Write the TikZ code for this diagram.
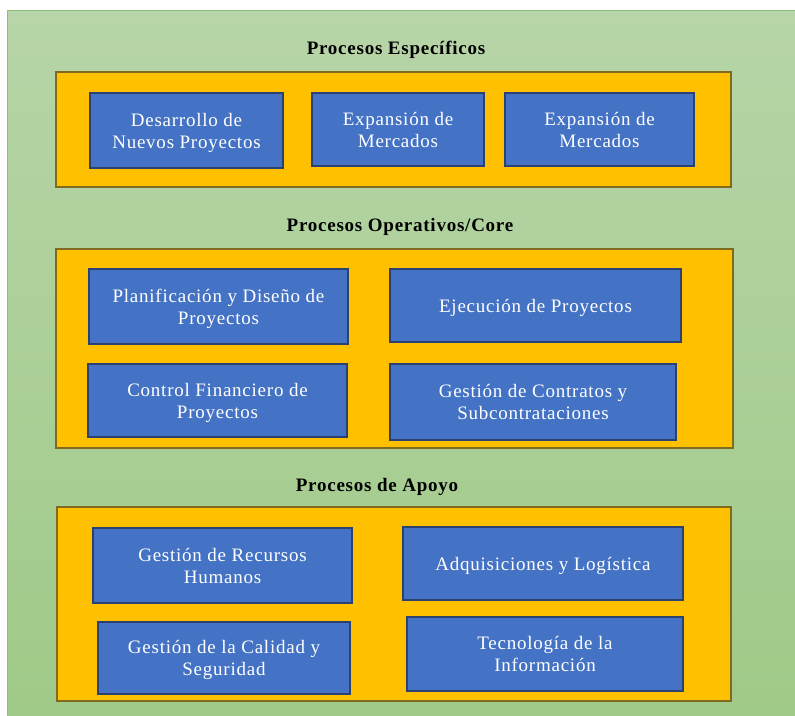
\documentclass[tikz,border=0pt]{standalone}
\usepackage{fontspec}
\setmainfont{Liberation Serif}
\definecolor{verdeArriba}{HTML}{B7D5A8}
\definecolor{verdeAbajo}{HTML}{A0CA88}
\definecolor{verdeBorde}{HTML}{8DBE72}
\definecolor{naranja}{HTML}{FFC000}
\definecolor{naranjaBorde}{HTML}{7F6A1E}
\definecolor{azul}{HTML}{4472C4}
\definecolor{azulBorde}{HTML}{2B4270}
\newcommand{\Txt}{\fontsize{19}{22}\selectfont\addfontfeature{LetterSpace=4}}

\begin{document}
\begin{tikzpicture}[x=1pt,y=-1pt,
  bloque/.style={draw=naranjaBorde, fill=naranja, line width=1.6pt, inner sep=0pt},
  caja/.style={draw=azulBorde, fill=azul, line width=1.6pt, inner sep=0pt,
    text=white, align=center, font=\Txt, text depth=0pt},
  titulo/.style={font=\Txt\bfseries, inner sep=0pt}]

  \useasboundingbox (0,0) rectangle (795,715);
  \shade[top color=verdeArriba, bottom color=verdeAbajo] (7,10) rectangle (795,715);
  \draw[verdeBorde, line width=0.8pt] (7.4,10.4) -- (794.6,10.4);
  \draw[verdeBorde, line width=0.8pt] (7.4,10.4) -- (7.4,715);

  % procesos especificos
  \node[titulo] (tEsp) at (396,50) {Procesos Específicos};
  \node[bloque, minimum width=675pt, minimum height=115pt] (bEsp) at (393.5,129.5) {};
  \node[caja, minimum width=193pt, minimum height=75pt] (desarrollo) at (186.5,130.5)
    {Desarrollo de\\Nuevos Proyectos};
  \node[caja, minimum width=172pt, minimum height=73pt] (expansionA) at (398,129.5)
    {Expansión de\\Mercados};
  \node[caja, minimum width=189pt, minimum height=73pt] (expansionB) at (599.5,129.5)
    {Expansión de\\Mercados};

  % procesos operativos / core
  \node[titulo] (tOpe) at (400,227) {Procesos Operativos/Core};
  \node[bloque, minimum width=677pt, minimum height=199pt] (bOpe) at (394.5,348.5) {};
  \node[caja, minimum width=259pt, minimum height=75pt] (planificacion) at (218.5,306.5)
    {Planificación y Diseño de\\Proyectos};
  \node[caja, minimum width=291pt, minimum height=73pt] (ejecucion) at (535.5,305.5)
    {Ejecución de Proyectos};
  \node[caja, minimum width=259pt, minimum height=73pt] (control) at (217.5,400.5)
    {Control Financiero de\\Proyectos};
  \node[caja, minimum width=286pt, minimum height=76pt] (contratos) at (533,402)
    {Gestión de Contratos y\\Subcontrataciones};

  % procesos de apoyo
  \node[titulo] (tApo) at (377,487) {Procesos de Apoyo};
  \node[bloque, minimum width=674pt, minimum height=194pt] (bApo) at (394,604) {};
  \node[caja, minimum width=259pt, minimum height=75pt] (recursos) at (222.5,565.5)
    {Gestión de Recursos\\Humanos};
  \node[caja, minimum width=280pt, minimum height=73pt] (adquisiciones) at (543,563.5)
    {Adquisiciones y Logística};
  \node[caja, minimum width=252pt, minimum height=72pt] (calidad) at (224,658)
    {Gestión de la Calidad y\\Seguridad};
  \node[caja, minimum width=276pt, minimum height=74pt] (tecnologia) at (545,654)
    {Tecnología de la\\Información};

\end{tikzpicture}
\end{document}
